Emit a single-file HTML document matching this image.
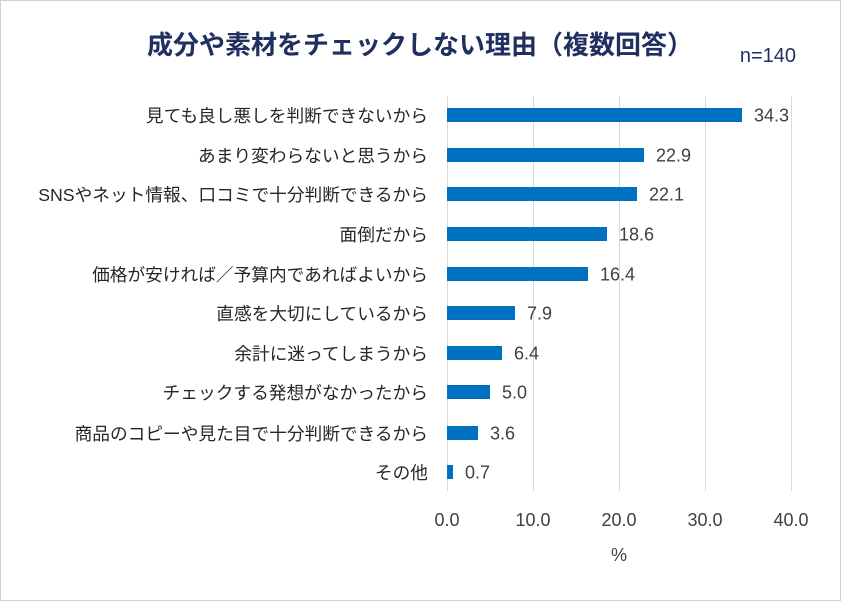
<!DOCTYPE html>
<html><head><meta charset="utf-8"><style>
body{margin:0;background:#fff;}
.c{position:relative;width:839px;height:599px;border:1px solid #d0d0d0;overflow:hidden;font-family:"Liberation Sans","Noto Sans CJK JP",sans-serif;}
.t{position:absolute;left:0;width:838px;top:24px;text-align:center;font-size:26px;font-weight:bold;color:#1f2f5f;}
.n{position:absolute;right:44px;top:44px;font-size:20px;color:#1f2f5f;}
.g{position:absolute;top:95px;width:1px;height:395px;background:#d9d9d9;}
.b{position:absolute;left:446px;height:14px;background:#0070c0;}
.l{position:absolute;right:412px;font-size:17.7px;color:#262626;white-space:nowrap;transform:translateY(-50%);}
.v{position:absolute;font-size:18px;color:#404040;transform:translateY(-50%);}
.x{position:absolute;top:509px;font-size:18px;color:#404040;width:60px;text-align:center;}
</style></head><body><div class="c">
<div class="t">成分や素材をチェックしない理由（複数回答）</div>
<div class="n">n=140</div>
<div class="g" style="left:446px"></div><div class="g" style="left:532px"></div><div class="g" style="left:618px"></div><div class="g" style="left:704px"></div><div class="g" style="left:790px"></div>

<div class="b" style="top:107px;width:295px"></div><div class="l" style="top:114px">見ても良し悪しを判断できないから</div><div class="v" style="top:115px;left:753px">34.3</div>
<div class="b" style="top:147px;width:197px"></div><div class="l" style="top:154px">あまり変わらないと思うから</div><div class="v" style="top:155px;left:655px">22.9</div>
<div class="b" style="top:186px;width:190px"></div><div class="l" style="top:193px">SNSやネット情報、口コミで十分判断できるから</div><div class="v" style="top:194px;left:648px">22.1</div>
<div class="b" style="top:226px;width:160px"></div><div class="l" style="top:233px">面倒だから</div><div class="v" style="top:234px;left:618px">18.6</div>
<div class="b" style="top:266px;width:141px"></div><div class="l" style="top:273px">価格が安ければ／予算内であればよいから</div><div class="v" style="top:274px;left:599px">16.4</div>
<div class="b" style="top:305px;width:68px"></div><div class="l" style="top:312px">直感を大切にしているから</div><div class="v" style="top:313px;left:526px">7.9</div>
<div class="b" style="top:345px;width:55px"></div><div class="l" style="top:352px">余計に迷ってしまうから</div><div class="v" style="top:353px;left:513px">6.4</div>
<div class="b" style="top:384px;width:43px"></div><div class="l" style="top:391px">チェックする発想がなかったから</div><div class="v" style="top:392px;left:501px">5.0</div>
<div class="b" style="top:425px;width:31px"></div><div class="l" style="top:432px">商品のコピーや見た目で十分判断できるから</div><div class="v" style="top:433px;left:489px">3.6</div>
<div class="b" style="top:464px;width:6px"></div><div class="l" style="top:471px">その他</div><div class="v" style="top:472px;left:464px">0.7</div>

<div class="x" style="left:416px">0.0</div><div class="x" style="left:502px">10.0</div><div class="x" style="left:588px">20.0</div><div class="x" style="left:674px">30.0</div><div class="x" style="left:760px">40.0</div>
<div class="x" style="left:588px;top:544px">%</div>
</div></body></html>
